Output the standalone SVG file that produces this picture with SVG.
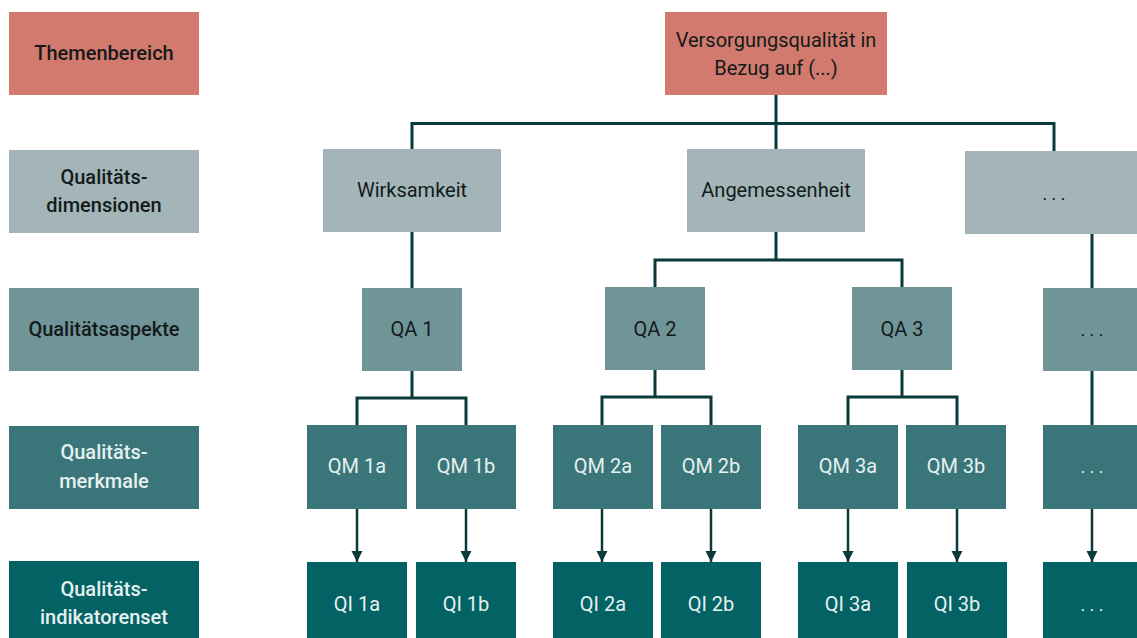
<svg xmlns="http://www.w3.org/2000/svg" width="1137" height="638" viewBox="0 0 1137 638">
  <style>
    text { font-family: Roboto, "Liberation Sans", sans-serif; font-size: 20px; text-anchor: middle; }
    .lbl { font-weight: 500; }
    .dots { font-size: 18px; }
    .dark { fill: #141a1a; }
    .light { fill: #e6f0f0; }
    .t { fill: #d27a6e; }
    .d { fill: #a3b5b8; }
    .a { fill: #709598; }
    .m { fill: #3a7679; }
    .i { fill: #036264; }
    .con { fill: none; stroke: #0b3a3b; stroke-width: 3; }
    .arr { fill: none; stroke: #0b3a3b; stroke-width: 2.5; marker-end: url(#ah); }
  </style>
  <defs>
    <marker id="ah" markerUnits="userSpaceOnUse" markerWidth="12" markerHeight="12" refX="11" refY="6" orient="auto">
      <path d="M0,0.5 L11,6 L0,11.5 Z" fill="#0b3a3b"/>
    </marker>
  </defs>
  <rect width="1137" height="638" fill="#ffffff"/>

  <!-- Left labels -->
  <g id="lbl-themenbereich"><rect class="t" x="9" y="12" width="190" height="83"/><text class="lbl dark" x="104" y="60">Themenbereich</text></g>
  <g id="lbl-dimensionen"><rect class="d" x="9" y="150" width="190" height="83"/><text class="lbl dark" x="104" y="184">Qualitäts-</text><text class="lbl dark" x="104" y="212">dimensionen</text></g>
  <g id="lbl-aspekte"><rect class="a" x="9" y="288" width="190" height="83"/><text class="lbl dark" x="104" y="336">Qualitätsaspekte</text></g>
  <g id="lbl-merkmale"><rect class="m" x="9" y="426" width="190" height="83"/><text class="lbl light" x="104" y="459">Qualitäts-</text><text class="lbl light" x="104" y="488">merkmale</text></g>
  <g id="lbl-indikatoren"><rect class="i" x="9" y="561" width="190" height="77"/><text class="lbl light" x="104" y="596">Qualitäts-</text><text class="lbl light" x="104" y="624">indikatorenset</text></g>

  <!-- Connectors -->
  <g id="connectors">
    <path class="con" d="M776 95 V149" stroke-width="4"/>
    <path class="con" d="M412 149 V123.5 H1054 V151"/>
    <path class="con" d="M412 232 V288"/>
    <path class="con" d="M776 232 V260"/>
    <path class="con" d="M655 287 V260 H902 V287"/>
    <path class="con" d="M1092 234 V288"/>
    <path class="con" d="M412 371 V398"/>
    <path class="con" d="M357 425 V398 H466 V425"/>
    <path class="con" d="M655 370 V397"/>
    <path class="con" d="M602 425 V397 H711 V425"/>
    <path class="con" d="M902 370 V397"/>
    <path class="con" d="M848 425 V397 H957 V425"/>
    <path class="con" d="M1092 371 V425"/>
    <path class="arr" d="M357 509 V562"/>
    <path class="arr" d="M466 509 V562"/>
    <path class="arr" d="M602 509 V562"/>
    <path class="arr" d="M711 509 V562"/>
    <path class="arr" d="M848 509 V562"/>
    <path class="arr" d="M957 509 V562"/>
    <path class="arr" d="M1092 509 V562"/>
  </g>

  <!-- Top -->
  <g id="n-top"><rect class="t" x="665" y="12" width="222" height="83"/><text class="dark" x="776" y="47">Versorgungsqualität in</text><text class="dark" x="776" y="75">Bezug auf (...)</text></g>

  <!-- Dimensions -->
  <g id="n-wirksamkeit"><rect class="d" x="323" y="149" width="178" height="83"/><text class="dark" x="412" y="197">Wirksamkeit</text></g>
  <g id="n-angemessenheit"><rect class="d" x="687" y="149" width="178" height="83"/><text class="dark" x="776" y="197">Angemessenheit</text></g>
  <g id="n-dim-more"><rect class="d" x="965" y="151" width="172" height="83"/><text class="dark dots" x="1054" y="200">. . .</text></g>

  <!-- Aspects -->
  <g id="n-qa1"><rect class="a" x="362" y="288" width="100" height="83"/><text class="dark" x="412" y="336">QA 1</text></g>
  <g id="n-qa2"><rect class="a" x="605" y="287" width="100" height="83"/><text class="dark" x="655" y="336">QA 2</text></g>
  <g id="n-qa3"><rect class="a" x="852" y="287" width="100" height="83"/><text class="dark" x="902" y="336">QA 3</text></g>
  <g id="n-qa-more"><rect class="a" x="1043" y="288" width="94" height="83"/><text class="dark dots" x="1092" y="336">. . .</text></g>

  <!-- Merkmale -->
  <g id="n-qm1a"><rect class="m" x="307" y="425" width="100" height="84"/><text class="light" x="357" y="473">QM 1a</text></g>
  <g id="n-qm1b"><rect class="m" x="416" y="425" width="100" height="84"/><text class="light" x="466" y="473">QM 1b</text></g>
  <g id="n-qm2a"><rect class="m" x="553" y="425" width="100" height="84"/><text class="light" x="603" y="473">QM 2a</text></g>
  <g id="n-qm2b"><rect class="m" x="661" y="425" width="100" height="84"/><text class="light" x="711" y="473">QM 2b</text></g>
  <g id="n-qm3a"><rect class="m" x="798" y="425" width="100" height="84"/><text class="light" x="848" y="473">QM 3a</text></g>
  <g id="n-qm3b"><rect class="m" x="906" y="425" width="100" height="84"/><text class="light" x="956" y="473">QM 3b</text></g>
  <g id="n-qm-more"><rect class="m" x="1043" y="425" width="94" height="84"/><text class="light dots" x="1092" y="473">. . .</text></g>

  <!-- Indikatoren -->
  <g id="n-qi1a"><rect class="i" x="307" y="562" width="100" height="76"/><text class="light" x="357" y="611">QI 1a</text></g>
  <g id="n-qi1b"><rect class="i" x="416" y="562" width="100" height="76"/><text class="light" x="466" y="611">QI 1b</text></g>
  <g id="n-qi2a"><rect class="i" x="553" y="562" width="100" height="76"/><text class="light" x="603" y="611">QI 2a</text></g>
  <g id="n-qi2b"><rect class="i" x="661" y="562" width="100" height="76"/><text class="light" x="711" y="611">QI 2b</text></g>
  <g id="n-qi3a"><rect class="i" x="798" y="562" width="100" height="76"/><text class="light" x="848" y="611">QI 3a</text></g>
  <g id="n-qi3b"><rect class="i" x="907" y="562" width="100" height="76"/><text class="light" x="957" y="611">QI 3b</text></g>
  <g id="n-qi-more"><rect class="i" x="1043" y="562" width="94" height="76"/><text class="light dots" x="1092" y="611">. . .</text></g>
</svg>
